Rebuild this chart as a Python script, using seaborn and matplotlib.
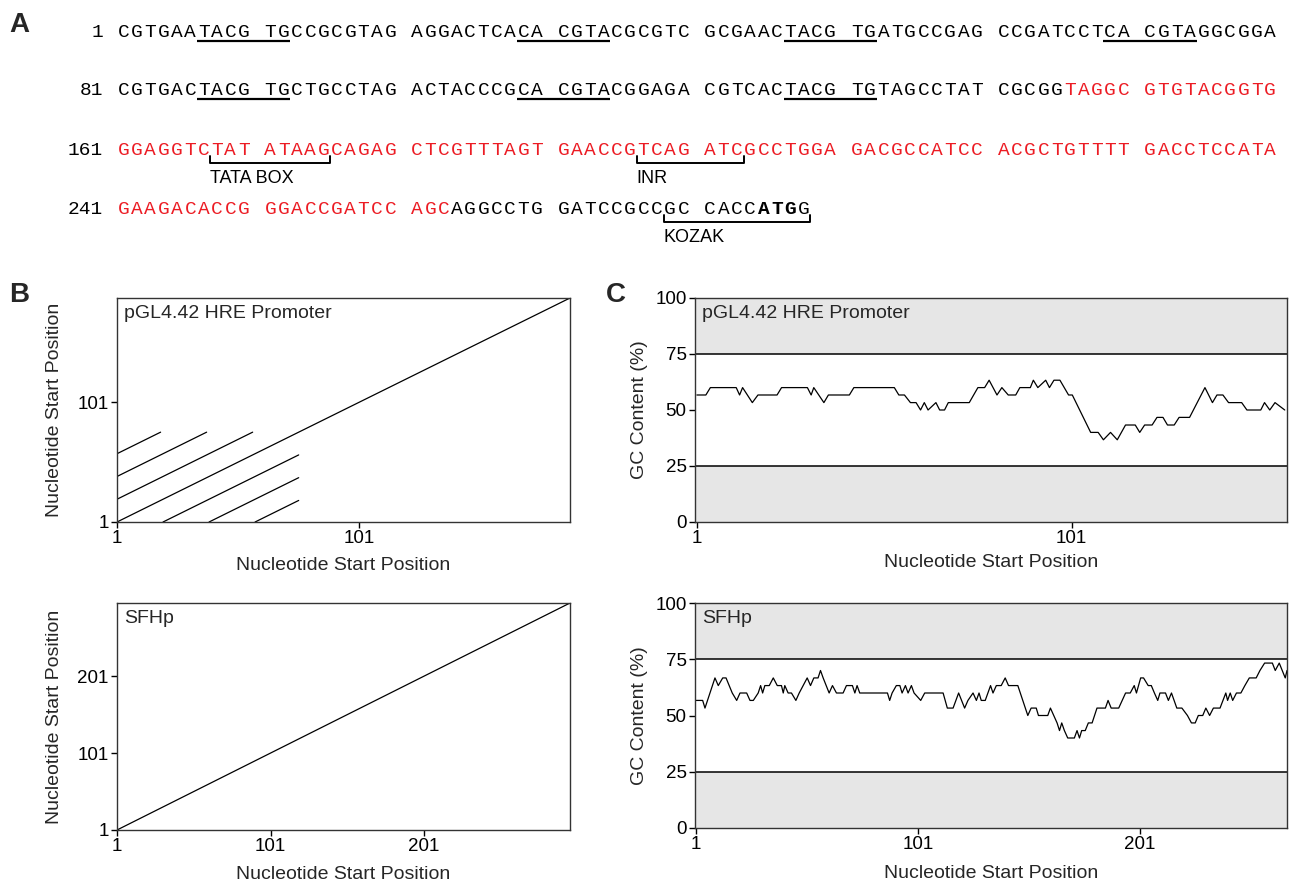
import numpy as np
import pandas as pd
import matplotlib
matplotlib.use("Agg")
import matplotlib.pyplot as plt
import seaborn as sns

# ---------------- data ----------------
# Panel A: SFHp sequence
seq_line_starts = [1, 81, 161, 241]
seq_lines = [
    "CGTGAATACGTGCCGCGTAGAGGACTCACACGTACGCGTCGCGAACTACGTGATGCCGAGCCGATCCTCACGTAGGCGGA",
    "CGTGACTACGTGCTGCCTAGACTACCCGCACGTACGGAGACGTCACTACGTGTAGCCTATCGCGGTAGGCGTGTACGGTG",
    "GGAGGTCTATATAAGCAGAGCTCGTTTAGTGAACCGTCAGATCGCCTGGAGACGCCATCCACGCTGTTTTGACCTCCATA",
    "GAAGACACCGGGACCGATCCAGCAGGCCTGGATCCGCCGCCACCATGG",
]
red_start, red_end = 146, 263
bold_start, bold_end = 285, 287
underline_starts = [7, 29, 47, 69, 87, 109, 127]
underline_ends = [12, 34, 52, 74, 92, 114, 132]
bracket_labels = ["TATA BOX", "INR", "KOZAK"]
bracket_starts = [168, 197, 279]
bracket_ends = [175, 203, 288]

# Panel B: dot plots (segments)
hre_length = 188
hre_dot_x0 = [1, 1, 1, 1, 20, 39, 58]
hre_dot_x1 = [188, 19, 38, 57, 76, 76, 76]
hre_dot_y0 = [1, 58, 39, 20, 1, 1, 1]
hre_dot_y1 = [188, 76, 76, 76, 57, 38, 19]
sfhp_length = 296
sfhp_dot_x0 = [1]
sfhp_dot_x1 = [296]
sfhp_dot_y0 = [1]
sfhp_dot_y1 = [296]
hre_ticks = [1, 101]
sfhp_ticks = [1, 101, 201]

# Panel C: GC content (%) profiles
gc_hre_pos = [1, 3.4, 4.6, 11.5, 12.4, 13.2, 15.8, 17.3, 22.4, 23.6,
              30.5, 31.5, 32.2, 34.9, 36.1, 41.7, 42.9, 53.7, 54.9, 56.4,
              58.0, 59.5, 60.7, 61.7, 62.7, 64.8, 65.8, 67.1, 68.1, 73.7,
              76.0, 77.8, 79.0, 81.1, 82.4, 84.1, 86.1, 87.2, 90.0, 90.8,
              92.0, 94.1, 95.1, 96.3, 97.9, 100.2, 101.2, 106.1, 108.1, 109.5,
              111.4, 113.2, 115.4, 118.0, 119.2, 120.5, 122.5, 123.8, 125.4, 126.6,
              128.4, 129.7, 132.5, 136.6, 138.6, 139.8, 141.4, 142.9, 146.4, 147.8,
              151.5, 152.5, 153.9, 155.3, 157.9]
gc_hre_val = [56.7, 56.7, 60, 60, 56.7, 60, 53.3, 56.7, 56.7, 60,
              60, 56.7, 60, 53.3, 56.7, 56.7, 60, 60, 56.7, 56.7,
              53.3, 53.3, 50, 53.3, 50, 53.3, 50, 50, 53.3, 53.3,
              60, 60, 63.3, 56.7, 60, 56.7, 56.7, 60, 60, 63.3,
              60, 63.3, 60, 63.3, 63.3, 56.7, 56.7, 40, 40, 36.7,
              40, 36.7, 43.3, 43.3, 40, 43.3, 43.3, 46.7, 46.7, 43.3,
              43.3, 46.7, 46.7, 60, 53.3, 56.7, 56.7, 53.3, 53.3, 50,
              50, 53.3, 50, 53.3, 50]
gc_sfhp_pos = [1, 3.95, 5.0, 9.5, 11.0, 13.0, 14.5, 17.3, 19.3, 20.8,
               23.8, 25.3, 26.8, 29.0, 30.1, 31.0, 32.0, 34.0, 35.8, 37.6,
               39.5, 40.3, 41.0, 42.5, 44.0, 46.0, 47.5, 49.3, 51.1, 52.6,
               54.1, 56.0, 57.1, 58.3, 61.0, 62.5, 64.3, 67.3, 68.8, 71.5,
               72.6, 73.6, 74.8, 87.3, 88.3, 89.4, 91.3, 92.9, 93.9, 95.4,
               96.6, 98.1, 99.3, 102.3, 104.1, 112.4, 114.3, 116.9, 119.4, 122.1,
               123.6, 125.9, 127.4, 128.6, 129.6, 131.4, 133.8, 134.9, 136.4, 138.6,
               140.4, 141.9, 146.1, 150.6, 152.1, 154.4, 155.4, 159.6, 160.8, 163.8,
               164.9, 165.9, 167.1, 168.6, 171.6, 172.8, 173.9, 174.9, 176.5, 177.9,
               179.6, 181.8, 185.6, 186.8, 188.2, 191.6, 194.7, 196.8, 198.6, 199.6,
               201.5, 202.8, 204.9, 206.3, 207.7, 209.2, 210.2, 212.7, 214.0, 215.4,
               217.8, 220.1, 222.6, 224.4, 226.1, 227.5, 229.5, 230.9, 232.6, 234.3,
               237.3, 239.9, 240.7, 241.9, 243.0, 244.7, 246.7, 248.5, 250.5, 253.6,
               255.3, 257.4, 260.9, 262.2, 264.0, 266.7, 267.5]
gc_sfhp_val = [56.7, 56.7, 53.3, 66.7, 63.3, 66.7, 66.7, 60, 56.7, 60,
               60, 56.7, 56.7, 60, 63.3, 60, 63.3, 63.3, 66.7, 63.3,
               63.3, 60, 63.3, 60, 60, 56.7, 60, 63.3, 66.7, 63.3,
               66.7, 66.7, 70, 66.7, 60, 63.3, 60, 60, 63.3, 63.3,
               60, 63.3, 60, 60, 56.7, 60, 63.3, 63.3, 60, 63.3,
               60, 63.3, 60, 56.7, 60, 60, 53.3, 53.3, 60, 53.3,
               56.7, 60, 56.7, 60, 56.7, 56.7, 63.3, 60, 63.3, 63.3,
               66.7, 63.3, 63.3, 50, 53.3, 53.3, 50, 50, 53.3, 46.7,
               43.3, 46.7, 43.3, 40, 40, 43.3, 40, 43.3, 43.3, 46.7,
               46.7, 53.3, 53.3, 56.7, 53.3, 53.3, 60, 60, 63.3, 60,
               66.7, 66.7, 63.3, 63.3, 60, 56.7, 60, 60, 56.7, 60,
               53.3, 53.3, 50, 46.7, 46.7, 50, 50, 53.3, 50, 53.3,
               53.3, 60, 56.7, 60, 56.7, 60, 60, 63.3, 66.7, 66.7,
               70, 73.3, 73.3, 70, 73.3, 66.7, 70]
gc_ticks = [0, 25, 50, 75, 100]

# ---------------- figure ----------------
sns.set_theme(style="ticks")
plt.rcParams['font.family'] = ['Liberation Sans', 'DejaVu Sans']
W, H = 1293, 886
fig = plt.figure(figsize=(W / 100, H / 100), dpi=100)


def px_axes(l, t, r, b):
    return fig.add_axes([l / W, 1 - b / H, (r - l) / W, (b - t) / H])


RED = '#ec1c24'
MONO = 'Liberation Mono'

# ---- Panel A ----
axA = fig.add_axes([0, 0, 1, 1])
axA.set_xlim(0, W)
axA.set_ylim(H, 0)
axA.axis('off')
pitch = 13.33
x_origin = 117
baselines = [37, 95, 155, 214]


def col_of(n, li):
    i = n - seq_line_starts[li]
    return i + i // 10


for li, (s, seq) in enumerate(zip(seq_line_starts, seq_lines)):
    base = baselines[li]
    axA.text(103, base, str(s), ha='right', va='baseline', family=MONO,
             fontsize=14, color='black')
    for i, ch in enumerate(seq):
        n = s + i
        col = i + i // 10
        xc = x_origin + col * pitch + pitch / 2
        color = RED if red_start <= n <= red_end else 'black'
        weight = 'bold' if bold_start <= n <= bold_end else 'normal'
        axA.text(xc, base, ch, ha='center', va='baseline', family=MONO,
                 fontsize=14, color=color, fontweight=weight)

for a, b in zip(underline_starts, underline_ends):
    li = (a - 1) // 80
    xl = x_origin + col_of(a, li) * pitch
    xr = x_origin + (col_of(b, li) + 1) * pitch
    y = baselines[li] + 4
    axA.plot([xl, xr], [y, y], color='black', lw=1.6, solid_capstyle='butt')

for lab, a, b in zip(bracket_labels, bracket_starts, bracket_ends):
    li = (a - 1) // 80
    xl = x_origin + col_of(a, li) * pitch
    xr = x_origin + (col_of(b, li) + 1) * pitch
    y = baselines[li] + 8
    axA.plot([xl, xl, xr, xr], [y - 7, y, y, y - 7], color='black', lw=1.4)
    axA.text(xl, y + 15.5, lab, ha='left', va='center', fontsize=13, color='black')

# ---- Panel B ----
def seg_df(x0, x1, y0, y1):
    rows = []
    for k in range(len(x0)):
        rows.append((k, x0[k], y0[k]))
        rows.append((k, x1[k], y1[k]))
    return pd.DataFrame(rows, columns=['seg', 'x', 'y'])


axB1 = px_axes(117, 298, 570, 522)
axB2 = px_axes(117, 603, 570, 830)
axC1 = px_axes(695, 298, 1287, 522)
axC2 = px_axes(695, 603, 1287, 828)

for ax, df, L, ticks, title in [
        (axB1, seg_df(hre_dot_x0, hre_dot_x1, hre_dot_y0, hre_dot_y1), hre_length, hre_ticks,
         'pGL4.42 HRE Promoter'),
        (axB2, seg_df(sfhp_dot_x0, sfhp_dot_x1, sfhp_dot_y0, sfhp_dot_y1), sfhp_length, sfhp_ticks,
         'SFHp')]:
    sns.lineplot(data=df, x='x', y='y', units='seg', estimator=None, sort=False,
                 color='black', lw=0.9, ax=ax, legend=False)
    ax.set_xlim(1, L)
    ax.set_ylim(1, L)
    ax.set_xticks(ticks)
    ax.set_yticks(ticks)
    ax.set_xlabel('Nucleotide Start Position', fontsize=14)
    ax.set_ylabel('Nucleotide Start Position', fontsize=14)
    ax.text(0.015, 0.93, title, transform=ax.transAxes, ha='left', va='center', fontsize=14)

axB1.xaxis.set_label_coords(0.5, -0.196)
axB1.yaxis.set_label_coords(-0.137, 0.5)
axB2.xaxis.set_label_coords(0.5, -0.194)
axB2.yaxis.set_label_coords(-0.137, 0.5)

# ---- Panel C ----
for ax, pos, val, xmax, ticks, title in [
        (axC1, gc_hre_pos, gc_hre_val, 158.5, hre_ticks, 'pGL4.42 HRE Promoter'),
        (axC2, gc_sfhp_pos, gc_sfhp_val, 267.5, sfhp_ticks, 'SFHp')]:
    ax.axhspan(0, 25, color='#e6e6e6', zorder=0, lw=0)
    ax.axhspan(75, 100, color='#e6e6e6', zorder=0, lw=0)
    ax.axhline(25, color='black', lw=1.1, zorder=1)
    ax.axhline(75, color='black', lw=1.1, zorder=1)
    sns.lineplot(x=pos, y=val, estimator=None, sort=False, color='black', lw=0.9,
                 ax=ax, legend=False)
    ax.set_xlim(0.5, xmax)
    ax.set_ylim(0, 100)
    ax.set_xticks(ticks)
    ax.set_yticks(gc_ticks)
    ax.set_xlabel('Nucleotide Start Position', fontsize=14)
    ax.set_ylabel('GC Content (%)', fontsize=14)
    ax.text(0.012, 0.93, title, transform=ax.transAxes, ha='left', va='center', fontsize=14)

axC1.xaxis.set_label_coords(0.5, -0.179)
axC1.yaxis.set_label_coords(-0.093, 0.5)
axC2.xaxis.set_label_coords(0.5, -0.204)
axC2.yaxis.set_label_coords(-0.093, 0.5)

for ax in [axB1, axB2, axC1, axC2]:
    ax.tick_params(axis='both', direction='out', length=4, width=1, labelsize=13.5,
                   colors='black', pad=2)
    for sp in ax.spines.values():
        sp.set_color('#333333')
        sp.set_linewidth(1.0)
    ax.xaxis.label.set_va('center')
    ax.yaxis.label.set_va('center')

# panel letters
fig.text(9 / W, 1 - 32 / H, 'A', fontsize=20, fontweight='bold', ha='left', va='baseline')
fig.text(9 / W, 1 - 302 / H, 'B', fontsize=20, fontweight='bold', ha='left', va='baseline')
fig.text(606 / W, 1 - 302 / H, 'C', fontsize=20, fontweight='bold', ha='left', va='baseline')

fig.savefig('out.png', dpi=100)
